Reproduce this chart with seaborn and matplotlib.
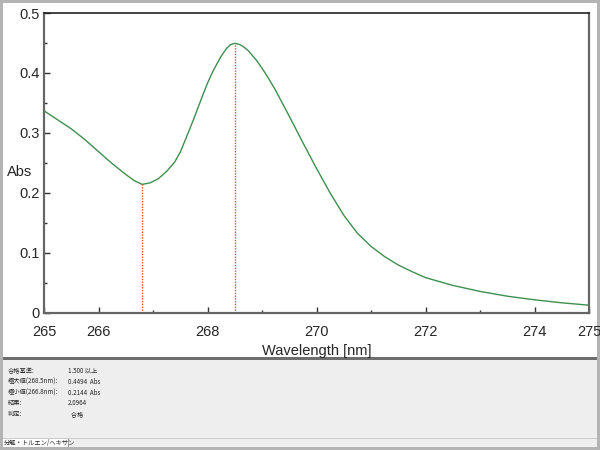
import matplotlib
matplotlib.use("Agg")
import matplotlib.pyplot as plt
from matplotlib.patches import Rectangle
import pandas as pd
import seaborn as sns

# absorbance spectrum
wavelength = [265.0, 265.25, 265.5, 265.75, 266.0, 266.25, 266.5, 266.65, 266.8,
              266.95, 267.1, 267.25, 267.4, 267.5, 267.6, 267.75, 267.9, 268.0,
              268.1, 268.25, 268.35, 268.42, 268.5, 268.58, 268.65, 268.75, 268.9,
              269.0, 269.1, 269.25, 269.5, 269.75, 270.0, 270.25, 270.5, 270.75,
              271.0, 271.25, 271.5, 271.75, 272.0, 272.5, 273.0, 273.5, 274.0,
              274.5, 275.0]
absorb = [0.337, 0.322, 0.307, 0.289, 0.269, 0.249, 0.231, 0.221, 0.2144,
          0.217, 0.224, 0.236, 0.252, 0.268, 0.290, 0.324, 0.360, 0.383,
          0.403, 0.428, 0.441, 0.4472, 0.4494, 0.4478, 0.4445, 0.437, 0.421,
          0.408, 0.394, 0.371, 0.328, 0.284, 0.241, 0.200, 0.163, 0.133,
          0.111, 0.094, 0.080, 0.069, 0.059, 0.046, 0.036, 0.028, 0.022,
          0.017, 0.013]

peak_x = [266.8, 268.5]
peak_y = [0.2144, 0.4494]

xtick_major = [265, 266, 268, 270, 272, 274, 275]
xtick_minor = [267, 269, 271, 273]
ytick_major = [0, 0.1, 0.2, 0.3, 0.4, 0.5]
ytick_labels = ["0", "0.1", "0.2", "0.3", "0.4", "0.5"]

info_labels = ["合格基準:", "極大値(268.5nm):", "極小値(266.8nm):", "結果:", "判定:"]
info_values = ["1.500 以上", "0.4494  Abs", "0.2144  Abs", "2.0964", "  合格"]
tab_name = "分解・トルエン/ヘキサン"

sns.set_style("ticks")
plt.rcParams['font.family'] = ['Liberation Sans', 'Noto Sans CJK JP', 'DejaVu Sans']
cjk = ['Noto Sans CJK JP', 'DejaVu Sans']

df = pd.DataFrame({"wl": wavelength, "abs": absorb})

fig = plt.figure(figsize=(6, 4.5), dpi=100)
fig.patch.set_facecolor("white")

def box(x0, y0, x1, y1, color, z=-1):
    # rectangle given in pixel coords from top-left
    fig.patches.append(Rectangle((x0 / 600, (450 - y1) / 450), (x1 - x0) / 600, (y1 - y0) / 450,
                                 transform=fig.transFigure, facecolor=color,
                                 edgecolor="none", zorder=z))

# window frame and the lower info panel
box(0, 0, 600, 3, "#b4b4b4")
box(0, 0, 3, 450, "#b4b4b4")
box(597, 0, 600, 450, "#b4b4b4")
box(0, 447, 600, 450, "#b4b4b4")
box(3, 360, 597, 447, "#eeeeee")
box(3, 357, 597, 360, "#6e6e6e")
box(3, 438, 597, 439, "#cccccc")
box(3, 439, 68, 447, "white")
box(68, 439, 69, 447, "#999999")

ax = fig.add_axes([44 / 600, (450 - 313) / 450, (589 - 44) / 600, (313 - 13) / 450])
sns.lineplot(data=df, x="wl", y="abs", ax=ax, color="#3f8f4f", lw=1.0)
ax.vlines(peak_x, 0, peak_y, colors="#e0502a", linestyles=(0, (1, 1)), lw=1.0)

ax.set_xlim(265, 275)
ax.set_ylim(0, 0.5)
ax.set_xticks(xtick_major)
ax.set_xticklabels([str(t) for t in xtick_major], fontsize=10.5)
ax.set_xticks(xtick_minor, minor=True)
ax.set_yticks(ytick_major)
ax.set_yticklabels(ytick_labels, fontsize=10.5)
ax.set_yticks([0.05, 0.15, 0.25, 0.35, 0.45], minor=True)
ax.tick_params(axis="x", which="major", direction="in", length=4, width=1, color="#333333", pad=9)
ax.tick_params(axis="y", which="major", direction="in", length=4, width=1, color="#333333", pad=3)
ax.tick_params(which="minor", direction="in", length=2, width=1, color="#333333")
for s in ["left", "bottom", "right"]:
    ax.spines[s].set_color("#666666")
    ax.spines[s].set_linewidth(1.6)
ax.spines["top"].set_color("#222222")
ax.spines["top"].set_linewidth(1.2)

ax.set_xlabel("Wavelength [nm]", fontsize=10.5, labelpad=3)
ax.set_ylabel("Abs", fontsize=10.5, rotation=0, ha="left", va="center")
ax.yaxis.set_label_coords(-0.068, 0.47)

for i, (lab, val) in enumerate(zip(info_labels, info_values)):
    y = (450 - 371 - i * 10.8) / 450
    fig.text(8 / 600, y, lab, fontsize=4.5, va="center", family=cjk)
    fig.text(68 / 600, y, val, fontsize=4.5, va="center", family=cjk)
fig.text(4 / 600, (450 - 443.5) / 450, tab_name, fontsize=4.5, va="center", family=cjk)

fig.savefig("out.png", dpi=100)
